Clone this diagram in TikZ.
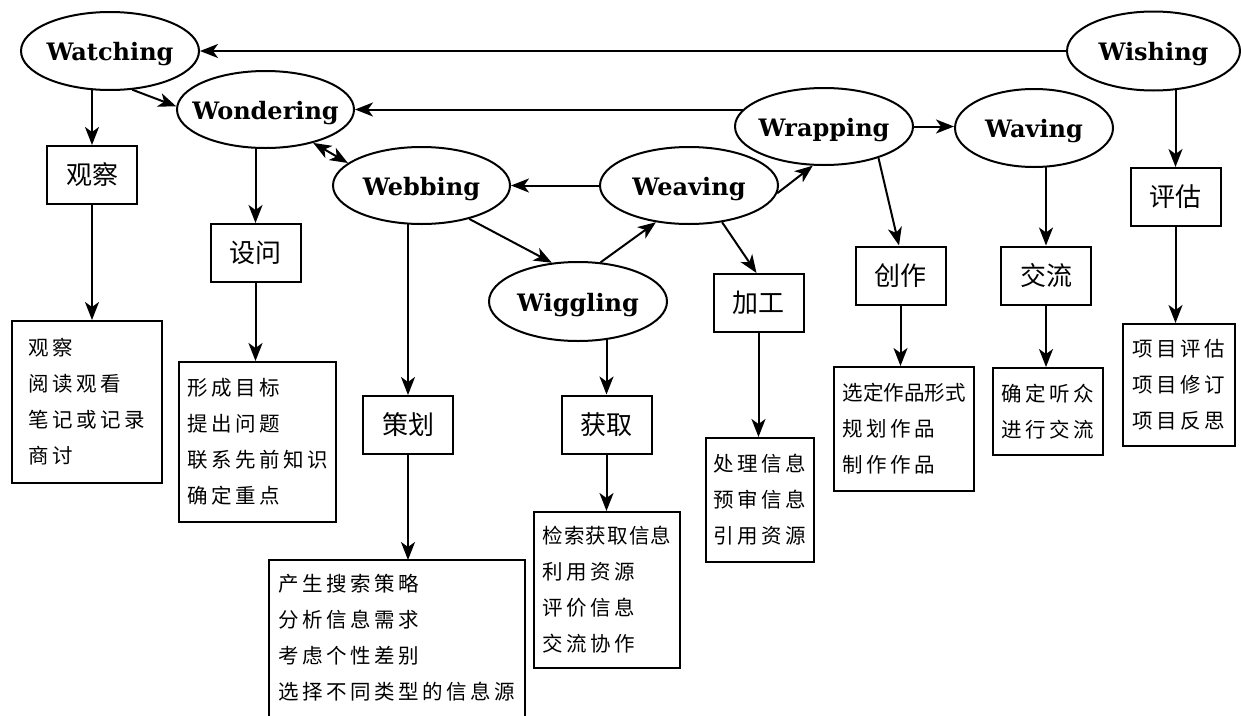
\documentclass[tikz,border=0pt]{standalone}
\usepackage{fontspec}
\newfontfamily\cjk[LetterSpace=17]{Noto Sans CJK SC}
\newfontfamily\cjkt[LetterSpace=5]{Noto Sans CJK SC}
\newfontfamily\cjklab{Noto Sans CJK SC}
\newfontfamily\stagefont{DejaVu Serif}
\usetikzlibrary{shapes.geometric,arrows.meta,calc}
\pgfdeclarelayer{bg}
\pgfsetlayers{bg,main}
\newcommand{\stg}[1]{\makebox[0pt]{#1}}
\begin{document}
\begin{tikzpicture}[x=1pt,y=-1pt,line width=2pt,
  >={Stealth[length=18pt,width=14pt,inset=5pt]},
  stage/.style={ellipse, draw, fill=white, inner sep=0pt, text height=19.5pt, text depth=0pt,
    font=\stagefont\bfseries\fontsize{24}{28}\selectfont},
  tagbox/.style={rectangle, draw, fill=white, minimum width=90pt, minimum height=58pt, inner sep=0pt,
    font=\cjklab\fontsize{26}{30}\selectfont},
  listbox/.style={rectangle, draw, align=left, inner sep=0pt,
    font=\cjk\fontsize{20.5}{36}\selectfont},
  arr/.style={->, line width=2pt}, darr/.style={<->, line width=2pt}]
\useasboundingbox (0,0) rectangle (1241,715);
% stages
\node[stage, minimum width=178pt, minimum height=78pt] (Watching) at (110,51) {\stg{Watching}};
\node[stage, minimum width=177pt, minimum height=77pt] (Wondering) at (265.5,109.5) {\stg{Wondering}};
\node[stage, minimum width=177pt, minimum height=77pt] (Webbing) at (421.5,185.5) {\stg{Webbing}};
\node[stage, minimum width=178pt, minimum height=77pt] (Weaving) at (689,185.5) {\stg{Weaving}};
\node[stage, minimum width=178pt, minimum height=79pt] (Wiggling) at (578,301.5) {\stg{Wiggling}};
\node[stage, minimum width=178pt, minimum height=77pt] (Wrapping) at (824,126.5) {\stg{Wrapping}};
\node[stage, minimum width=158pt, minimum height=78pt] (Waving) at (1034,128) {\stg{Waving}};
\node[stage, minimum width=173pt, minimum height=79pt] (Wishing) at (1153.5,51) {\stg{Wishing}};
% tag boxes
\node[tagbox] (obs) at (92,175) {观察};
\node[tagbox] (ask) at (255.5,253) {设问};
\node[tagbox] (plan) at (408,425) {策划};
\node[tagbox] (get) at (606.5,424.5) {获取};
\node[tagbox] (proc) at (758.5,303) {加工};
\node[tagbox] (cre) at (900.5,275.5) {创作};
\node[tagbox] (comm) at (1046,275.5) {交流};
\node[tagbox] (eval) at (1175.5,197) {评估};
% list boxes
\node[listbox, minimum width=150pt, minimum height=162pt] (L1) at (87,402) {观察\\阅读观看\\笔记或记录\\商讨};
\node[listbox, minimum width=157pt, minimum height=160pt] (L2) at (257.5,442) {形成目标\\提出问题\\联系先前知识\\确定重点};
\node[listbox, draw=none, minimum width=254pt, minimum height=154pt] (L3) at (397,638) {产生搜索策略\\分析信息需求\\考虑个性差别\\选择不同类型的信息源};
\draw (L3.south west) -- (L3.north west) -- (L3.north east) -- (L3.south east);
\node[listbox, minimum width=146pt, minimum height=156pt] (L4) at (607,590) {{\cjkt 检索获取信息}\\利用资源\\评价信息\\交流协作};
\node[listbox, minimum width=108pt, minimum height=124pt] (L5) at (760,500) {处理信息\\预审信息\\引用资源};
\node[listbox, minimum width=140pt, minimum height=124pt] (L6) at (904,429) {{\cjklab 选定作品形式}\\规划作品\\制作作品};
\node[listbox, minimum width=110pt, minimum height=87pt] (L7) at (1048,411.5) {确定听众\\进行交流};
\node[listbox, minimum width=112pt, minimum height=122pt] (L8) at (1179,385) {项目评估\\项目修订\\项目反思};
% connectors hidden behind ellipses
\begin{pgfonlayer}{bg}
\draw[arr] (Watching.center -| obs.north) -- (obs.north);
\draw[arr] (Wondering.center -| ask.north) -- (ask.north);
\draw[arr] (Webbing.center -| plan.north) -- (plan.north);
\draw[arr] (Wiggling.center -| get.north) -- (get.north);
\draw[arr] (Waving.center -| comm.north) -- (comm.north);
\draw[arr] (Wishing.center -| eval.north) -- (eval.north);
\draw[arr] (Wrapping.center |- Wondering.east) -- (Wondering.east);
\end{pgfonlayer}
\draw[arr] (Wishing.west) -- (Watching.east);
\draw[arr] (Watching.-60) -- (Wondering.178);
\draw[darr] (Wondering.-35) -- (Webbing.163);
\draw[arr] (Weaving.west) -- (Webbing.east);
\draw[arr] (Webbing.-35) -- (Wiggling.124);
\draw[arr] (Wiggling.60) -- (Weaving.-132);
\draw[arr] (Weaving.-5) -- (Wrapping.-106);
\draw[arr] (Weaving.-48) -- ([xshift=-2pt]proc.north);
\draw[arr] (Wrapping.-30) -- ([xshift=-1.5pt]cre.north);
\draw[arr] (Wrapping.east) -- (Waving.west |- Wrapping.east);
% tags to lists
\draw[arr] (obs.south) -- (obs.south |- L1.north);
\draw[arr] (ask.south) -- (ask.south |- L2.north);
\draw[arr] (plan.south) -- (plan.south |- L3.north);
\draw[arr] (get.south) -- (get.south |- L4.north);
\draw[arr] (proc.south) -- (proc.south |- L5.north);
\draw[arr] (cre.south) -- (cre.south |- L6.north);
\draw[arr] (comm.south) -- (comm.south |- L7.north);
\draw[arr] (eval.south) -- (eval.south |- L8.north);
\end{tikzpicture}
\end{document}
